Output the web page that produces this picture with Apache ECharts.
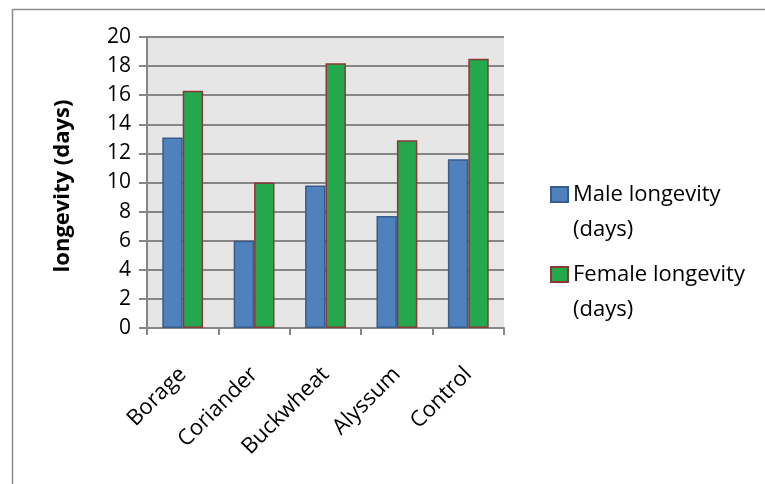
<!DOCTYPE html>
<html>
<head>
<meta charset="utf-8">
<script src="https://cdn.jsdelivr.net/npm/echarts@6/dist/echarts.min.js"></script>
<style>
  html, body { margin: 0; padding: 0; background: #fff; }
  #chart { width: 765px; height: 484px; }
</style>
</head>
<body>
<div id="chart"></div>
<script>
// Longevity by flowering plant treatment
const categories = ['Borage', 'Coriander', 'Buckwheat', 'Alyssum', 'Control'];
const maleLongevity = [13.1, 6.0, 9.8, 7.7, 11.6];
const femaleLongevity = [16.3, 10.0, 18.2, 12.9, 18.5];
const seriesNames = ['Male longevity\n(days)', 'Female longevity\n(days)'];
const yAxisTitle = 'longevity (days)';

const FONT = 'Open Sans';
const chart = echarts.init(document.getElementById('chart'), null, { renderer: 'canvas' });

// one legend block per series, marker level with the first text line
function legendBlock(name, top) {
  return {
    orient: 'vertical', left: 545, top: top,
    icon: 'rect', itemWidth: 17, itemHeight: 15,
    formatter: n => '\n' + n,
    textStyle: { fontFamily: FONT, fontSize: 22, color: '#000', lineHeight: 35 },
    data: [name]
  };
}

chart.setOption({
  animation: false,
  textStyle: { fontFamily: FONT },
  graphic: [
    // frame of the chart area (runs off the right and bottom edges)
    { type: 'rect', shape: { x: 12.5, y: 9.5, width: 800, height: 520 },
      style: { fill: 'none', stroke: '#8c8c8c', lineWidth: 1.5 }, z: -10 },
    // y axis title
    { type: 'text', x: 63, y: 186, rotation: Math.PI / 2,
      style: { text: yAxisTitle, font: 'bold 22px "Open Sans"', fill: '#000',
               textAlign: 'center', textVerticalAlign: 'middle' } }
  ],
  grid: { left: 147, right: 261, top: 37, bottom: 156,
          show: true, backgroundColor: '#e6e6e6', borderWidth: 0 },
  legend: [legendBlock(seriesNames[0], 137), legendBlock(seriesNames[1], 217)],
  xAxis: {
    type: 'category', data: categories,
    axisLine: { lineStyle: { color: '#868686', width: 2 } },
    axisTick: { show: true, length: 7, lineStyle: { color: '#868686', width: 2 } },
    axisLabel: { rotate: 45, fontSize: 22, color: '#000', margin: 43, fontFamily: FONT },
    splitLine: { show: false }
  },
  yAxis: {
    type: 'value', min: 0, max: 20, interval: 2,
    axisLine: { show: true, lineStyle: { color: '#868686', width: 2 } },
    axisTick: { show: true, length: 8, lineStyle: { color: '#868686', width: 2 } },
    axisLabel: { fontSize: 21, color: '#000', margin: 16, fontFamily: FONT },
    splitLine: { lineStyle: { color: '#868686', width: 2 } }
  },
  series: [
    { name: seriesNames[0], type: 'bar', data: maleLongevity,
      barGap: '0%', barCategoryGap: '42.8%',
      itemStyle: { color: '#4f81bd', borderColor: '#385d8a', borderWidth: 1.5 } },
    { name: seriesNames[1], type: 'bar', data: femaleLongevity,
      barGap: '0%', barCategoryGap: '42.8%',
      itemStyle: { color: '#23a84e', borderColor: '#8c3836', borderWidth: 1.5 } }
  ]
});
</script>
</body>
</html>
